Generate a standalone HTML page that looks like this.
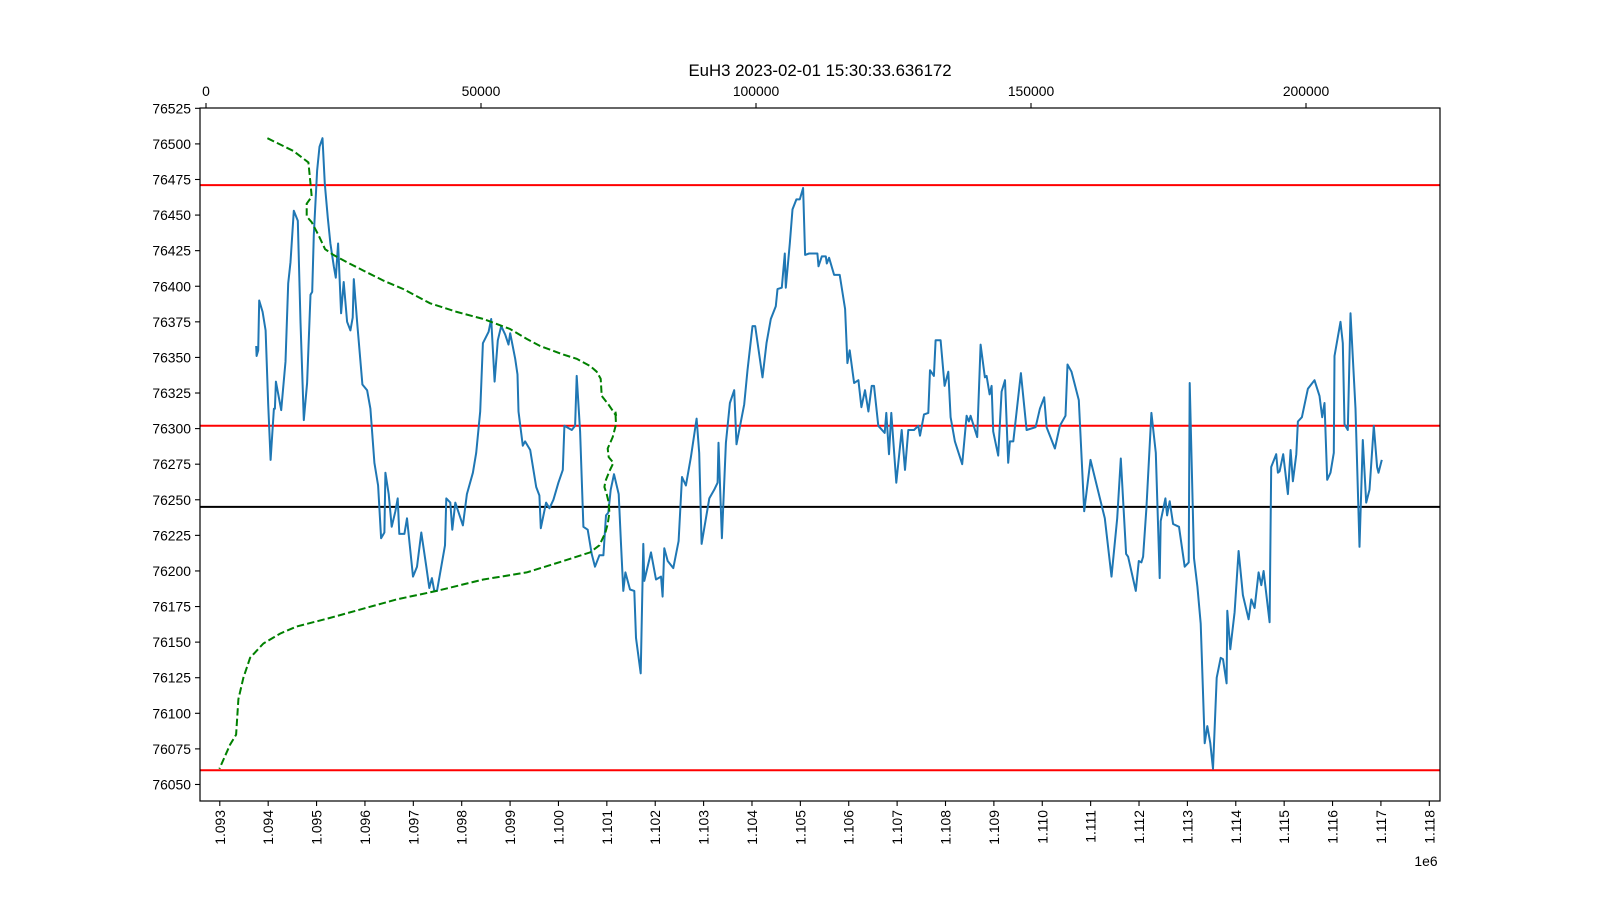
<!DOCTYPE html>
<html><head><meta charset="utf-8"><style>
html,body{margin:0;padding:0;background:#fff;}
svg{display:block;font-family:"Liberation Sans","DejaVu Sans",sans-serif;}
</style></head><body>
<svg id="chart" width="1600" height="900" viewBox="0 0 1600 900" xmlns="http://www.w3.org/2000/svg">
<rect width="1600" height="900" fill="#fff"/>
<text x="820" y="76" font-size="16.8" text-anchor="middle">EuH3 2023-02-01 15:30:33.636172</text>
<g id="plot"></g>
</svg>
<script>
// price series (x in units of 1e3)
const priceX = [1093.753,1093.760,1093.794,1093.815,1093.884,1093.946,1094.001,1094.049,1094.118,1094.138,1094.159,1094.269,1094.358,1094.413,1094.461,1094.530,1094.613,1094.668,1094.737,1094.805,1094.874,1094.909,1094.943,1095.012,1095.060,1095.122,1095.170,1095.232,1095.287,1095.356,1095.397,1095.445,1095.507,1095.562,1095.631,1095.700,1095.748,1095.769,1095.837,1095.947,1096.044,1096.112,1096.195,1096.271,1096.333,1096.402,1096.422,1096.491,1096.553,1096.629,1096.677,1096.711,1096.815,1096.870,1096.993,1097.076,1097.165,1097.269,1097.330,1097.385,1097.434,1097.489,1097.654,1097.681,1097.764,1097.805,1097.867,1098.025,1098.108,1098.231,1098.300,1098.383,1098.438,1098.555,1098.610,1098.679,1098.747,1098.816,1098.899,1098.967,1099.002,1099.105,1099.153,1099.174,1099.263,1099.311,1099.415,1099.539,1099.607,1099.635,1099.745,1099.813,1099.896,1099.999,1100.089,1100.123,1100.275,1100.344,1100.378,1100.447,1100.516,1100.605,1100.688,1100.756,1100.846,1100.928,1100.983,1101.031,1101.079,1101.148,
1101.245,1101.293,1101.341,1101.383,1101.479,1101.568,1101.603,1101.699,1101.754,1101.775,1101.912,1102.016,1102.119,1102.153,1102.188,1102.257,1102.374,1102.484,1102.553,1102.635,1102.738,1102.855,1102.910,1102.958,1103.117,1103.220,1103.289,1103.309,1103.378,1103.461,1103.543,1103.633,1103.681,1103.839,1103.908,1104.011,1104.066,1104.218,1104.300,1104.390,1104.493,1104.527,1104.617,1104.679,1104.699,1104.782,1104.837,1104.919,1104.988,1105.057,1105.098,1105.181,1105.353,1105.374,1105.443,1105.525,1105.546,1105.594,1105.697,1105.814,1105.924,1105.972,1106.020,1106.110,1106.199,1106.261,1106.337,1106.406,1106.475,1106.523,1106.612,1106.743,1106.777,1106.832,1106.880,1106.984,1107.094,1107.163,1107.232,1107.348,1107.438,1107.472,1107.555,1107.644,1107.679,1107.761,1107.796,1107.899,1107.982,1108.057,1108.105,1108.195,1108.346,1108.436,1108.484,1108.518,1108.656,1108.725,1108.814,1108.849,1108.911,1108.952,1108.986,1109.090,
1109.160,1109.229,1109.297,1109.332,1109.401,1109.559,1109.676,1109.862,1109.951,1110.041,1110.089,1110.261,1110.364,1110.481,1110.522,1110.605,1110.756,1110.866,1110.997,1111.293,1111.431,1111.548,1111.623,1111.733,1111.775,1111.933,1111.995,1112.050,1112.084,1112.153,1112.256,1112.346,1112.428,1112.449,1112.545,1112.580,1112.635,1112.704,1112.827,1112.944,1113.027,1113.048,1113.137,1113.206,1113.275,1113.357,1113.412,1113.474,1113.529,1113.605,1113.688,1113.736,1113.811,1113.825,1113.887,1113.976,1114.059,1114.148,1114.265,1114.320,1114.389,1114.472,1114.527,1114.575,1114.699,1114.733,1114.836,1114.871,1114.905,1114.981,1115.077,1115.133,1115.181,1115.250,1115.284,1115.367,1115.490,1115.628,1115.731,1115.786,1115.834,1115.889,1115.958,1116.027,1116.041,1116.165,1116.213,1116.247,1116.316,1116.371,1116.474,1116.557,1116.626,1116.695,1116.764,1116.853,1116.922,1116.949,1117.018];
const priceY = [76358,76351,76355,76390,76382,76369,76317,76278,76314,76314,76333,76313,76347,76402,76417,76453,76446,76375,76306,76332,76394,76396,76436,76481,76498,76504,76472,76448,76430,76414,76406,76430,76381,76403,76375,76369,76378,76405,76375,76331,76327,76314,76276,76260,76223,76227,76269,76254,76231,76242,76251,76226,76226,76237,76196,76203,76227,76203,76188,76195,76186,76186,76218,76251,76248,76229,76248,76232,76254,76269,76283,76312,76360,76368,76377,76333,76362,76372,76366,76359,76367,76349,76338,76312,76288,76291,76285,76259,76253,76230,76248,76244,76250,76262,76271,76302,76299,76302,76337,76298,76231,76229,76212,76203,76211,76211,76239,76241,76257,76268,
76254,76219,76186,76199,76187,76186,76153,76128,76219,76193,76213,76194,76196,76182,76216,76207,76202,76221,76266,76260,76280,76307,76283,76219,76251,76257,76262,76290,76223,76290,76318,76327,76289,76317,76341,76372,76372,76336,76360,76377,76386,76398,76399,76423,76399,76430,76454,76461,76461,76469,76422,76423,76423,76414,76421,76421,76416,76420,76408,76408,76384,76346,76355,76332,76334,76315,76327,76312,76330,76330,76302,76297,76311,76282,76311,76262,76299,76271,76299,76299,76302,76295,76310,76311,76341,76337,76362,76362,76330,76340,76308,76291,76275,76309,76305,76309,76294,76359,76336,76337,76324,76330,76298,76281,
76326,76334,76276,76291,76291,76339,76299,76301,76314,76322,76301,76286,76302,76309,76345,76340,76320,76242,76278,76237,76196,76237,76279,76212,76210,76186,76207,76206,76210,76244,76311,76283,76195,76235,76251,76239,76249,76233,76231,76203,76206,76332,76209,76189,76163,76079,76091,76079,76061,76125,76139,76138,76121,76172,76145,76171,76214,76183,76166,76180,76174,76199,76190,76200,76164,76273,76282,76269,76270,76282,76254,76285,76263,76282,76305,76308,76328,76334,76323,76308,76318,76264,76269,76283,76351,76375,76360,76303,76299,76381,76314,76217,76292,76248,76257,76302,76273,76269,76278];
// volume profile (top axis count vs price)
const profileCount = [11161,15889,18616,18919,19222,18313,18313,19222,20435,21647,23162,25587,28617,32254,35890,40739,45588,50437,55285,58316,60740,64983,67407,69832,71044,71771,71953,73165,74559,74429,74551,73944,73035,73217,74066,73338,72611,72429,72853,73217,73338,73035,72611,71520,69832,64983,58316,50437,41951,34678,22556,16495,13465,10434,8010,6797,5888,5464,4373,2433];
const profilePrice = [76504,76495,76487,76475,76463,76458,76449,76445,76436,76426,76422,76417,76411,76404,76398,76388,76382,76377,76370,76363,76358,76352,76349,76344,76340,76335,76323,76317,76309,76312,76303,76294,76286,76280,76276,76270,76263,76259,76254,76248,76241,76233,76227,76218,76213,76207,76199,76194,76186,76180,76167,76161,76156,76149,76139,76125,76110,76085,76078,76061];
const redLevels = [76471,76302,76060];
const blackLevels = [76245];
const yTicks = [76050,76075,76100,76125,76150,76175,76200,76225,76250,76275,76300,76325,76350,76375,76400,76425,76450,76475,76500,76525];
const xTicks = [1093,1094,1095,1096,1097,1098,1099,1100,1101,1102,1103,1104,1105,1106,1107,1108,1109,1110,1111,1112,1113,1114,1115,1116,1117,1118];
const topTicks = [0,50000,100000,150000,200000];

const L=200,R=1440,T=108,B=801;
const sx = v => 219.8 + (v-1093)*48.38;
const sy = v => 143.9 + (76500-v)*1.4235;
const stop = v => 206 + v/50000*275.0;
const NS='http://www.w3.org/2000/svg';
const g=document.getElementById('plot');
function mk(tag,attrs,parent){const e=document.createElementNS(NS,tag);for(const k in attrs)e.setAttribute(k,attrs[k]);(parent||g).appendChild(e);return e;}

redLevels.forEach(v=>{
  const l=mk('line',{x1:L,x2:R,y1:sy(v),y2:sy(v),stroke:'#ff0000','stroke-width':2});
  
  
});
blackLevels.forEach(v=>{
  const l=mk('line',{x1:L,x2:R,y1:sy(v),y2:sy(v),stroke:'#000','stroke-width':2});
  
  
});
let d='';priceX.forEach((x,i)=>{d+=(i?'L':'M')+sx(x).toFixed(1)+' '+sy(priceY[i]).toFixed(1);});
const pl=mk('path',{d:d,fill:'none',stroke:'#1f77b4','stroke-width':2,'stroke-linejoin':'round'});


let d2='';profileCount.forEach((c,i)=>{d2+=(i?'L':'M')+stop(c).toFixed(1)+' '+sy(profilePrice[i]).toFixed(1);});
const pf=mk('path',{d:d2,fill:'none',stroke:'#008000','stroke-width':2,'stroke-dasharray':'7.4 3.2'});


const fr=mk('rect',{x:L,y:T,width:R-L,height:B-T,fill:'none',stroke:'#000','stroke-width':1.2});


yTicks.forEach(v=>{
  const y=sy(v);
  mk('line',{x1:L-5,x2:L,y1:y,y2:y,stroke:'#000','stroke-width':1.1});
  const t=mk('text',{x:L-9,y:y+5,'font-size':13.9,'text-anchor':'end'});
  t.textContent=v;
  
  
});
xTicks.forEach(v=>{
  const x=sx(v);
  mk('line',{x1:x,x2:x,y1:B,y2:B+5,stroke:'#000','stroke-width':1.1});
  const t=mk('text',{x:0,y:0,'font-size':13.9,'text-anchor':'end',transform:`translate(${x+5},${B+9}) rotate(-90)`});
  t.textContent=(v/1000).toFixed(3);
  
  
});
topTicks.forEach(v=>{
  const x=stop(v);
  mk('line',{x1:x,x2:x,y1:T-5,y2:T,stroke:'#000','stroke-width':1.1});
  const t=mk('text',{x:x,y:T-12,'font-size':13.9,'text-anchor':'middle'});
  t.textContent=v;
  
  
});
const off=mk('text',{x:1426,y:866,'font-size':13.9,'text-anchor':'middle'});
off.textContent='1e6';


</script>
</body></html>
